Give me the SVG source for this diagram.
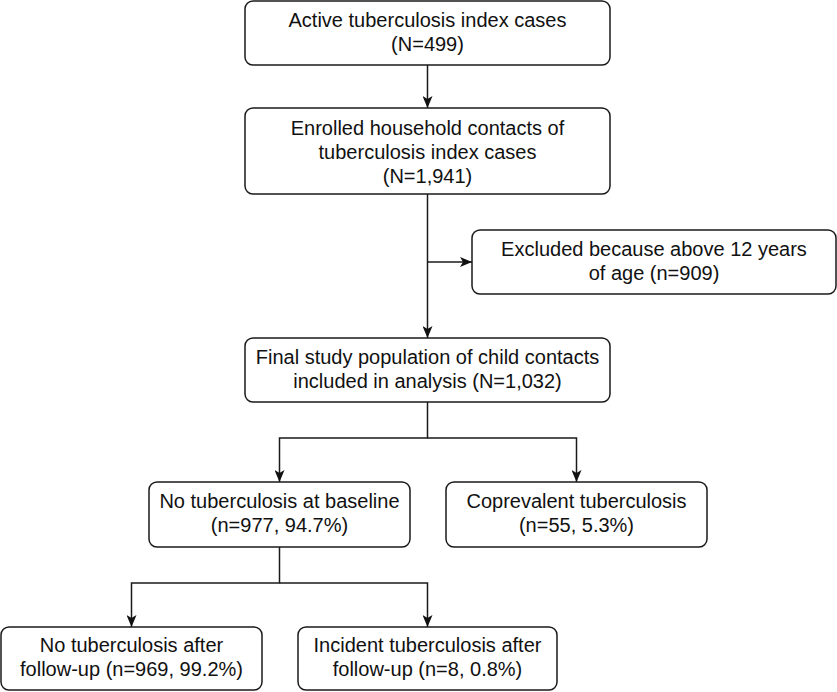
<svg xmlns="http://www.w3.org/2000/svg" width="837" height="692" viewBox="0 0 837 692">
<style>
.box{fill:#fff;stroke:#1a1a1a;stroke-width:1.5}
.t{font-family:"Liberation Sans",Arial,sans-serif;font-size:20px;fill:#111;text-anchor:middle}
.c{fill:none;stroke:#1a1a1a;stroke-width:1.5}
</style>
<defs>
<marker id="ah" viewBox="0 0 12 10" refX="12" refY="5" markerWidth="12" markerHeight="10" markerUnits="userSpaceOnUse" orient="auto">
<path d="M0,0 L12,5 L0,10 L3,5 z" fill="#111"/>
</marker>
</defs>
<rect width="837" height="692" fill="#fff"/>
<g id="connectors">
<path class="c" d="M427.5,65 V108" marker-end="url(#ah)"/>
<path class="c" d="M427.5,194 V338" marker-end="url(#ah)"/>
<path class="c" d="M427.5,262 H472" marker-end="url(#ah)"/>
<path class="c" d="M427.5,402 V438 H279.5 V482" marker-end="url(#ah)"/>
<path class="c" d="M427.5,438 H576.5 V482" marker-end="url(#ah)"/>
<path class="c" d="M279.5,547 V583 H131.5 V627" marker-end="url(#ah)"/>
<path class="c" d="M279.5,583 H427.5 V627" marker-end="url(#ah)"/>
</g>
<g id="n1"><rect class="box" x="245" y="1" width="365" height="64" rx="8"/>
<text class="t" x="427.5" y="27">Active tuberculosis index cases</text>
<text class="t" x="427.5" y="51">(N=499)</text></g>
<g id="n2"><rect class="box" x="245" y="108" width="365" height="86" rx="8"/>
<text class="t" x="427.5" y="135">Enrolled household contacts of</text>
<text class="t" x="427.5" y="159">tuberculosis index cases</text>
<text class="t" x="427.5" y="183">(N=1,941)</text></g>
<g id="n3"><rect class="box" x="472" y="230" width="364" height="64" rx="8"/>
<text class="t" x="654" y="256">Excluded because above 12 years</text>
<text class="t" x="654" y="280">of age (n=909)</text></g>
<g id="n4"><rect class="box" x="245" y="338" width="365" height="64" rx="8"/>
<text class="t" x="427.5" y="364">Final study population of child contacts</text>
<text class="t" x="427.5" y="388">included in analysis (N=1,032)</text></g>
<g id="n5"><rect class="box" x="149" y="482" width="261" height="65" rx="8"/>
<text class="t" x="279.5" y="508">No tuberculosis at baseline</text>
<text class="t" x="279.5" y="532">(n=977, 94.7%)</text></g>
<g id="n6"><rect class="box" x="446" y="482" width="261" height="65" rx="8"/>
<text class="t" x="576.5" y="508">Coprevalent tuberculosis</text>
<text class="t" x="576.5" y="532">(n=55, 5.3%)</text></g>
<g id="n7"><rect class="box" x="1" y="627" width="261" height="63" rx="8"/>
<text class="t" x="131.5" y="652">No tuberculosis after</text>
<text class="t" x="131.5" y="676">follow-up (n=969, 99.2%)</text></g>
<g id="n8"><rect class="box" x="298" y="627" width="259" height="63" rx="8"/>
<text class="t" x="427.5" y="652">Incident tuberculosis after</text>
<text class="t" x="427.5" y="676">follow-up (n=8, 0.8%)</text></g>
</svg>
